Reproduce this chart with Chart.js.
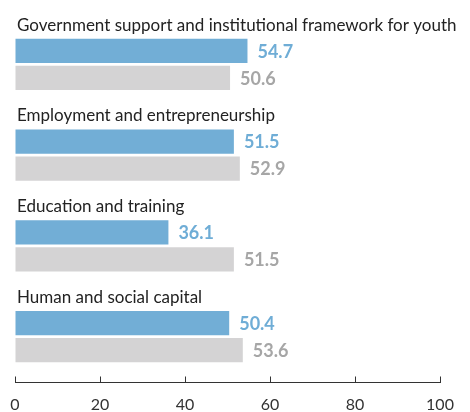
<!DOCTYPE html>
<html>
<head>
<meta charset="utf-8">
<script src="https://cdn.jsdelivr.net/npm/chart.js@4.4.0/dist/chart.umd.min.js"></script>
<style>
  html, body { margin: 0; padding: 0; background: #fff; }
  #wrap { width: 470px; height: 412px; }
</style>
</head>
<body>
<div id="wrap"><canvas id="youth-chart" width="470" height="412"></canvas></div>
<script>
const categories = [
  'Government support and institutional framework for youth',
  'Employment and entrepreneurship',
  'Education and training',
  'Human and social capital'
];
const blueValues = [54.7, 51.5, 36.1, 50.4];
const greyValues = [50.6, 52.9, 51.5, 53.6];
const xTicks = [0, 20, 40, 60, 80, 100];

const blueColour = '#72aed6';
const greyColour = '#d4d3d4';
const blueText = '#6fadd6';
const greyText = '#a6a6a6';
const fontFamily = 'Lato, "Noto Sans", sans-serif';

// category titles above each pair + value labels at bar ends
const labelPlugin = {
  id: 'barLabels',
  afterDatasetsDraw(chart) {
    const ctx = chart.ctx;
    const blueMeta = chart.getDatasetMeta(0);
    const greyMeta = chart.getDatasetMeta(1);
    ctx.save();
    ctx.textAlign = 'left';

    categories.forEach((name, i) => {
      const bar = blueMeta.data[i];
      ctx.font = '17px ' + fontFamily;
      ctx.fillStyle = '#222';
      ctx.textBaseline = 'alphabetic';
      ctx.fillText(name, chart.chartArea.left + 2, bar.y - bar.height / 2 - 8);
    });

    ctx.font = 'bold 18px ' + fontFamily;
    ctx.textBaseline = 'middle';
    [[blueMeta, blueValues, blueText], [greyMeta, greyValues, greyText]].forEach(([meta, vals, col]) => {
      meta.data.forEach((bar, i) => {
        ctx.fillStyle = col;
        ctx.fillText(vals[i].toFixed(1), bar.x + 10, bar.y + 1);
      });
    });
    ctx.restore();
  },
  // small tick marks pointing up from the axis line
  afterDraw(chart) {
    const ctx = chart.ctx;
    const xs = chart.scales.x;
    const yb = Math.round(xs.top) + 0.5;
    ctx.save();
    ctx.strokeStyle = '#333';
    ctx.lineWidth = 1;
    xTicks.forEach(v => {
      const px = Math.round(xs.getPixelForValue(v)) + 0.5;
      ctx.beginPath();
      ctx.moveTo(px, yb);
      ctx.lineTo(px, yb - 6);
      ctx.stroke();
    });
    ctx.restore();
  }
};

const ctx = document.getElementById('youth-chart').getContext('2d');
const youthChart = new Chart(ctx, {
  type: 'bar',
  data: {
    labels: categories,
    datasets: [
      {
        data: blueValues,
        backgroundColor: blueColour,
        borderWidth: 0,
        categoryPercentage: 0.595,
        barPercentage: 0.907
      },
      {
        data: greyValues,
        backgroundColor: greyColour,
        borderWidth: 0,
        categoryPercentage: 0.595,
        barPercentage: 0.907
      }
    ]
  },
  options: {
    indexAxis: 'y',
    responsive: false,
    animation: false,
    layout: { padding: { left: 15, right: 30, top: 19, bottom: 0 } },
    plugins: {
      legend: { display: false },
      tooltip: { enabled: false }
    },
    scales: {
      x: {
        min: 0,
        max: 100,
        afterBuildTicks: scale => {
          scale.ticks = xTicks.map(v => ({ value: v }));
        },
        afterFit: scale => {
          scale.height = 30;
          scale.paddingLeft = 0;
          scale.paddingRight = 0;
        },
        grid: { display: true, drawOnChartArea: false, drawTicks: false },
        border: { display: true, color: '#333', width: 1 },
        ticks: {
          padding: 13,
          color: '#333',
          font: { family: fontFamily, size: 16 },
          maxRotation: 0
        }
      },
      y: {
        display: false
      }
    }
  },
  plugins: [labelPlugin]
});
</script>
</body>
</html>
